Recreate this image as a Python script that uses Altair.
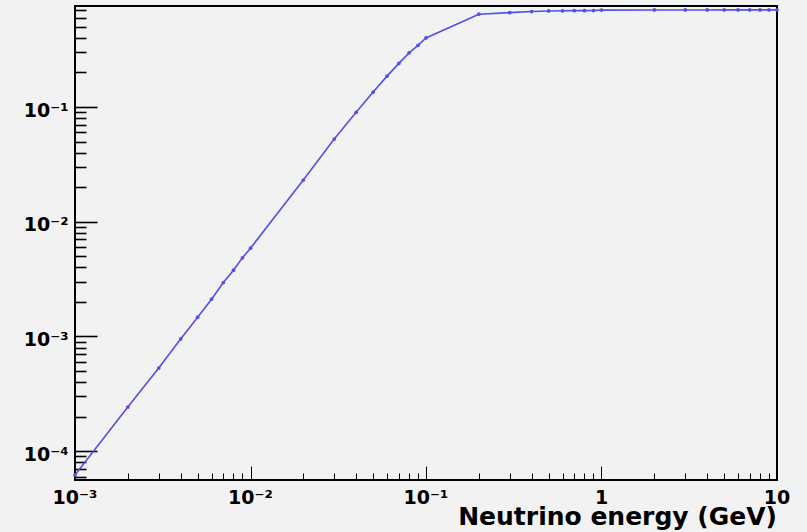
import altair as alt
import pandas as pd

# Energy grid (GeV) and the plotted quantity at each energy
energy = [
    0.001, 0.002, 0.003, 0.004, 0.005, 0.006, 0.007, 0.008, 0.009,
    0.01, 0.02, 0.03, 0.04, 0.05, 0.06, 0.07, 0.08, 0.09,
    0.1, 0.2, 0.3, 0.4, 0.5, 0.6, 0.7, 0.8, 0.9,
    1, 2, 3, 4, 5, 6, 7, 8, 9, 10,
]
value = [
    6.2e-5, 2.42e-4, 5.3e-4, 9.5e-4, 1.47e-3, 2.11e-3, 2.95e-3, 3.78e-3, 4.85e-3,
    5.88e-3, 0.0231, 0.0526, 0.090, 0.135, 0.186, 0.240, 0.296, 0.345,
    0.400, 0.645, 0.665, 0.680, 0.688, 0.690, 0.692, 0.692, 0.694,
    0.700, 0.702, 0.702, 0.702, 0.703, 0.703, 0.703, 0.703, 0.703, 0.703,
]

# Axis labels (decades only) and the energy-axis title
x_label_values = [0.001, 0.01, 0.1, 1, 10]
x_label_text = ["10⁻³", "10⁻²", "10⁻¹", "1", "10"]
y_label_exponents = [-4, -3, -2, -1]
y_label_text = ["10⁻⁴", "10⁻³", "10⁻²", "10⁻¹"]
x_title = ["Neutrino energy (GeV)"]

x_domain = [0.001, 10]
y_domain = [5.6e-5, 0.76]

PLOT_W, PLOT_H = 702, 474
LINE_COLOR = "#5151e6"
FONT = "DejaVu Sans"

df = pd.DataFrame({"energy": energy, "value": value})

# Tick positions: every mantissa 1..9 in each decade inside the domain
x_ticks = [m * 10.0 ** d for d in range(-3, 2) for m in range(1, 10)
           if m * 10.0 ** d <= 10.0001]
y_ticks = [m * 10.0 ** d for d in range(-5, 1) for m in range(1, 10)
           if y_domain[0] <= m * 10.0 ** d <= y_domain[1]]

is_decade = "abs(log(datum.value)/LN10 - round(log(datum.value)/LN10)) < 0.001"

x_scale = alt.Scale(type="log", domain=x_domain, nice=False)
y_scale = alt.Scale(type="log", domain=y_domain, nice=False)

y_label_expr = "[%s][round(log(datum.value)/LN10) - (%d)]" % (
    ",".join("'%s'" % t for t in y_label_text), y_label_exponents[0])

# Label-only vertical axis on the left edge
y_label_axis = alt.Axis(
    orient="left",
    values=[10.0 ** e for e in y_label_exponents],
    labelExpr=y_label_expr,
    ticks=False, domain=False, grid=False,
    labelFont=FONT, labelFontWeight="bold", labelFontSize=19,
    labelColor="black", labelPadding=7, labelOffset=3,
    labelFlush=False, labelOverlap=False,
    title=None,
)

# Tick-only axes drawn from the opposite sides so ticks point into the frame
x_tick_axis = alt.Axis(
    orient="top", offset=-PLOT_H, values=x_ticks,
    labels=False, domain=False, grid=False, title=None,
    tickColor="black",
    tickSize={"condition": {"test": is_decade, "value": 14}, "value": 7},
)
y_tick_axis = alt.Axis(
    orient="right", offset=-PLOT_W, values=y_ticks,
    labels=False, domain=False, grid=False, title=None,
    tickColor="black", tickWidth=1.6,
    tickSize={"condition": {"test": is_decade, "value": 22}, "value": 11},
)

line = alt.Chart(df).mark_line(color=LINE_COLOR, strokeWidth=1.6).encode(
    x=alt.X("energy:Q", scale=x_scale, axis=None),
    y=alt.Y("value:Q", scale=y_scale, axis=y_label_axis),
)

points = alt.Chart(df).mark_point(filled=True, size=14, color=LINE_COLOR, opacity=1).encode(
    x=alt.X("energy:Q", scale=x_scale, axis=x_tick_axis),
    y=alt.Y("value:Q", scale=y_scale, axis=y_tick_axis),
)

# Decade labels under the bottom frame edge, placed by the energy scale
x_labels = alt.Chart(pd.DataFrame({"energy": x_label_values, "label": x_label_text})).mark_text(
    font=FONT, fontWeight="bold", fontSize=19, color="black",
    align="center", baseline="top",
).encode(
    x=alt.X("energy:Q", scale=x_scale, axis=None),
    y=alt.value(PLOT_H + 9),
    text="label:N",
)

# Energy-axis title, right-aligned with the frame
x_title_text = alt.Chart(pd.DataFrame({"title": x_title})).mark_text(
    font=FONT, fontWeight="bold", fontSize=25, color="black",
    align="right", baseline="alphabetic",
).encode(
    x=alt.value(PLOT_W),
    y=alt.value(PLOT_H + 45),
    text="title:N",
)

chart = (
    alt.layer(line, points, x_labels, x_title_text)
    .resolve_axis(x="independent", y="independent")
    .properties(
        width=PLOT_W,
        height=PLOT_H,
        background="#f2f2f2",
        padding={"left": 75, "top": 6, "right": 30, "bottom": 52},
        autosize=alt.AutoSizeParams(type="none"),
    )
    .configure_view(stroke="black", strokeWidth=2, fill="#f2f2f2")
)

chart.save("out.html", embed_options={"renderer": "svg", "actions": False})
